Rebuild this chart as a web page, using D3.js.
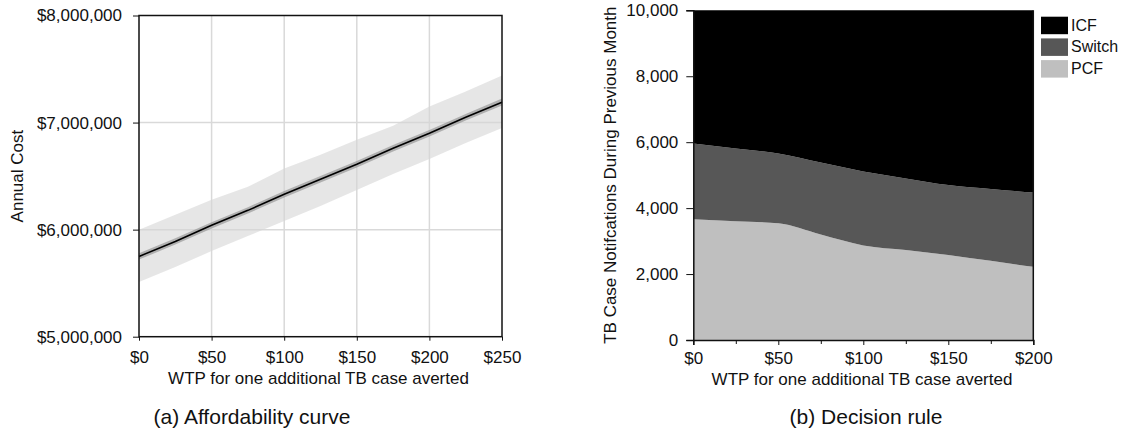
<!DOCTYPE html>
<html>
<head>
<meta charset="utf-8">
<script src="https://cdn.jsdelivr.net/npm/d3@7"></script>
<style>
  body { margin: 0; background: #fff; }
  text { font-family: "Liberation Sans", Arial, sans-serif; fill: #111; }
  .axis path, .axis line { stroke: #111; }
</style>
</head>
<body>
<div id="chart"></div>
<script>
// ---- data (a) affordability curve, costs in $ ----
const wtp = [0, 25, 50, 75, 100, 125, 150, 175, 200, 225, 250];
const costMean = [5750000, 5890000, 6040000, 6180000, 6330000, 6470000, 6610000, 6760000, 6900000, 7050000, 7190000];
const costInnerHi = [5780000, 5920000, 6070000, 6210000, 6360000, 6500000, 6640000, 6790000, 6930000, 7080000, 7225000];
const costInnerLo = [5720000, 5860000, 6010000, 6150000, 6300000, 6440000, 6580000, 6730000, 6870000, 7020000, 7160000];
const costHi = [6000000, 6140000, 6280000, 6400000, 6570000, 6700000, 6840000, 6970000, 7150000, 7290000, 7440000];
const costLo = [5510000, 5650000, 5800000, 5940000, 6080000, 6220000, 6370000, 6520000, 6660000, 6810000, 6950000];
const costTicks = [5000000, 6000000, 7000000, 8000000];
const wtpTicksA = [0, 50, 100, 150, 200, 250];

// ---- data (b) decision rule ----
const wtpB = [0, 25, 50, 75, 100, 125, 150, 175, 200];
const pcf = [3660, 3600, 3540, 3200, 2870, 2730, 2580, 2400, 2220];
const switchVals = [2300, 2210, 2120, 2180, 2240, 2170, 2120, 2180, 2250];
const icf = [4040, 4190, 4340, 4620, 4890, 5100, 5300, 5420, 5530];
const strategies = ["PCF", "Switch", "ICF"];
const stratColors = { PCF: "#bfbfbf", Switch: "#575757", ICF: "#000000" };
const notifTicks = [0, 2000, 4000, 6000, 8000, 10000];
const wtpTicksB = [0, 50, 100, 150, 200];
const wtpMinorB = [25, 75, 125, 175];

const width = 1144, height = 435;
const fs = 17;
const money = d3.format("$,.0f");

const svg = d3.select("#chart").append("svg")
  .attr("width", width)
  .attr("height", height);

// ================= panel (a) =================
const a = { left: 139, right: 502, top: 15.5, bottom: 336.7 };

const xA = d3.scaleLinear().domain([0, 250]).range([a.left, a.right]);
const yA = d3.scaleLinear().domain([5000000, 8000000]).range([a.bottom, a.top]);

const gA = svg.append("g");

// grid
gA.selectAll(".vgrid")
  .data(wtpTicksA.slice(1, -1))
  .join("line")
  .attr("x1", d => xA(d)).attr("x2", d => xA(d))
  .attr("y1", a.top).attr("y2", a.bottom)
  .attr("stroke", "#d9d9d9").attr("stroke-width", 1.5);

gA.selectAll(".hgrid")
  .data(costTicks.slice(1, -1))
  .join("line")
  .attr("x1", a.left).attr("x2", a.right)
  .attr("y1", d => yA(d)).attr("y2", d => yA(d))
  .attr("stroke", "#d9d9d9").attr("stroke-width", 1.5);

const rowsA = wtp.map((w, i) => ({
  w, mean: costMean[i], hi: costHi[i], lo: costLo[i], ihi: costInnerHi[i], ilo: costInnerLo[i]
}));

gA.append("path")
  .datum(rowsA)
  .attr("fill", "#d6d6d6")
  .attr("fill-opacity", 0.6)
  .attr("d", d3.area().x(d => xA(d.w)).y0(d => yA(d.lo)).y1(d => yA(d.hi)));

gA.append("path")
  .datum(rowsA)
  .attr("fill", "#8c8c8c")
  .attr("fill-opacity", 0.6)
  .attr("d", d3.area().x(d => xA(d.w)).y0(d => yA(d.ilo)).y1(d => yA(d.ihi)));

gA.append("path")
  .datum(rowsA)
  .attr("fill", "none")
  .attr("stroke", "#000")
  .attr("stroke-width", 1.6)
  .attr("d", d3.line().x(d => xA(d.w)).y(d => yA(d.mean)));

// box
gA.append("rect")
  .attr("x", a.left).attr("y", a.top)
  .attr("width", a.right - a.left).attr("height", a.bottom - a.top)
  .attr("fill", "none").attr("stroke", "#111").attr("stroke-width", 1.5);

gA.append("g")
  .attr("class", "axis")
  .attr("transform", `translate(0,${a.bottom})`)
  .call(d3.axisBottom(xA).tickValues(wtpTicksA).tickFormat(money).tickSize(4).tickPadding(10))
  .call(g => g.select(".domain").remove())
  .selectAll("text").attr("font-size", fs).attr("fill", "#111");

gA.append("g")
  .attr("class", "axis")
  .attr("transform", `translate(${a.left},0)`)
  .call(d3.axisLeft(yA).tickValues(costTicks).tickFormat(money).tickSize(6).tickPadding(11))
  .call(g => g.select(".domain").remove())
  .selectAll("text").attr("font-size", fs).attr("fill", "#111");

gA.append("text")
  .attr("x", (a.left + a.right) / 2 - 2)
  .attr("y", 384)
  .attr("text-anchor", "middle")
  .attr("font-size", fs)
  .text("WTP for one additional TB case averted");

gA.append("text")
  .attr("transform", `translate(23,${(a.top + a.bottom) / 2}) rotate(-90)`)
  .attr("text-anchor", "middle")
  .attr("font-size", fs)
  .text("Annual Cost");

gA.append("text")
  .attr("x", 252)
  .attr("y", 424)
  .attr("text-anchor", "middle")
  .attr("font-size", 21)
  .text("(a) Affordability curve");

// ================= panel (b) =================
const b = { left: 693.3, right: 1033.3, top: 10.3, bottom: 340 };

const xB = d3.scaleLinear().domain([0, 200]).range([b.left, b.right]);
const yB = d3.scaleLinear().domain([0, 10000]).range([b.bottom, b.top]);

const rowsB = wtpB.map((w, i) => ({ w, PCF: pcf[i], Switch: switchVals[i], ICF: icf[i] }));
const stacked = d3.stack().keys(strategies)(rowsB);

const gB = svg.append("g");

gB.selectAll(".layer")
  .data(stacked)
  .join("path")
  .attr("class", "layer")
  .attr("fill", d => stratColors[d.key])
  .attr("d", d3.area()
    .curve(d3.curveMonotoneX)
    .x(d => xB(d.data.w))
    .y0(d => yB(d[0]))
    .y1(d => yB(d[1])));

gB.append("line")
  .attr("x1", b.right).attr("x2", b.right)
  .attr("y1", b.top).attr("y2", b.bottom)
  .attr("stroke", "#111").attr("stroke-width", 1.5);

gB.append("g")
  .attr("class", "axis")
  .attr("transform", `translate(0,${b.bottom})`)
  .call(d3.axisBottom(xB).tickValues(wtpTicksB).tickFormat(money).tickSize(5).tickPadding(7))
  .call(g => g.select(".domain").attr("stroke-width", 1.5))
  .selectAll("text").attr("font-size", fs).attr("fill", "#111");

gB.append("g")
  .attr("class", "axis")
  .attr("transform", `translate(0,${b.bottom})`)
  .call(d3.axisBottom(xB).tickValues(wtpMinorB).tickFormat("").tickSize(4))
  .call(g => g.select(".domain").remove());

gB.append("g")
  .attr("class", "axis")
  .attr("transform", `translate(${b.left},0)`)
  .call(d3.axisLeft(yB).tickValues(notifTicks).tickFormat(d3.format(",")).tickSize(7).tickPadding(8))
  .call(g => g.select(".domain").attr("stroke-width", 1.5))
  .selectAll("text").attr("font-size", fs).attr("fill", "#111");

gB.append("text")
  .attr("x", 862)
  .attr("y", 385)
  .attr("text-anchor", "middle")
  .attr("font-size", fs)
  .text("WTP for one additional TB case averted");

gB.append("text")
  .attr("transform", `translate(616,${(b.top + b.bottom) / 2}) rotate(-90)`)
  .attr("text-anchor", "middle")
  .attr("font-size", fs)
  .text("TB Case Notifcations During Previous Month");

gB.append("text")
  .attr("x", 866)
  .attr("y", 424)
  .attr("text-anchor", "middle")
  .attr("font-size", 21)
  .text("(b) Decision rule");

// legend
const legend = gB.append("g").attr("transform", "translate(1041,16.7)");
const legendItems = legend.selectAll("g")
  .data(strategies.slice().reverse())
  .join("g")
  .attr("transform", (d, i) => `translate(0,${i * 21.7})`);

legendItems.append("rect")
  .attr("width", 27).attr("height", 17.5)
  .attr("fill", d => stratColors[d]);

legendItems.append("text")
  .attr("x", 30)
  .attr("y", 14)
  .attr("font-size", 16)
  .text(d => d);
</script>
</body>
</html>
